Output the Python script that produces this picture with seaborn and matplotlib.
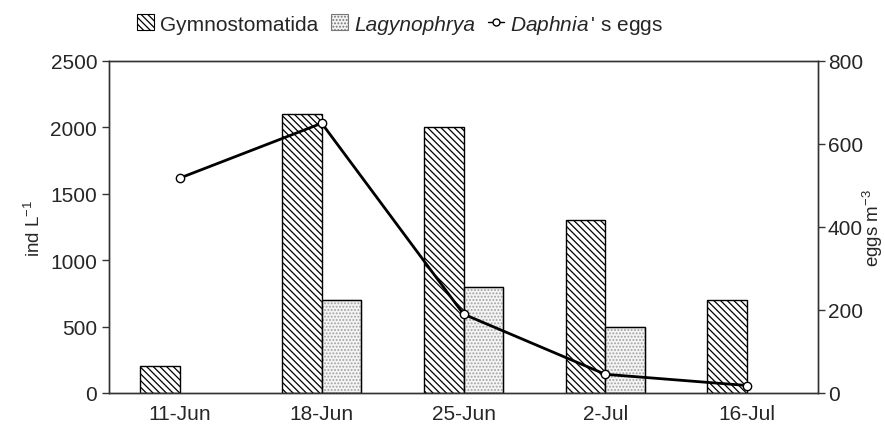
import numpy as np
import pandas as pd
import matplotlib
matplotlib.use('Agg')
import matplotlib.pyplot as plt
import matplotlib.patches as mpatches
import matplotlib.lines as mlines
import seaborn as sns

dates = ['11-Jun', '18-Jun', '25-Jun', '2-Jul', '16-Jul']
gymno = [200, 2100, 2000, 1300, 700]
lagyno = [np.nan, 700, 800, 500, np.nan]
eggs = [518, 650, 190, 45, 18]

df = pd.DataFrame({
    'date': dates * 2,
    'ind': gymno + lagyno,
    'taxon': ['Gymnostomatida'] * 5 + ['Lagynophrya'] * 5,
})

sns.set_style('white')
plt.rcParams['font.family'] = ['Liberation Sans', 'DejaVu Sans']
plt.rcParams['mathtext.fontset'] = 'custom'
plt.rcParams['mathtext.rm'] = 'Liberation Sans'
plt.rcParams['mathtext.it'] = 'Liberation Sans:italic'
plt.rcParams['hatch.linewidth'] = 0.9

FS = 15
LFS = 13.5

fig = plt.figure(figsize=(8.85, 4.35), dpi=100)
ax = fig.add_axes([0.1232, 0.0943, 0.8011, 0.7632])

sns.barplot(data=df, x='date', y='ind', hue='taxon', order=dates,
            hue_order=['Gymnostomatida', 'Lagynophrya'], width=0.56,
            palette=['white', '#f0f0f0'], edgecolor='black', linewidth=1,
            errorbar=None, legend=False, ax=ax)

ngym = len(dates)
for i, p in enumerate(ax.patches):
    if i < ngym:
        p.set_hatch('\\\\\\\\\\')
        p.set_facecolor('white')
    else:
        p.set_hatch('.....')
        p.set_facecolor('#f4f4f4')
        p.set_edgecolor('#a0a0a0')
        # dark outline on top of the grey stipple
        ax.add_patch(mpatches.Rectangle(p.get_xy(), p.get_width(), p.get_height(),
                                        fill=False, edgecolor='black', lw=1, zorder=p.get_zorder() + 0.1))

ax.set_xlim(-0.5, 4.5)
ax.set_ylim(0, 2500)
ax.set_yticks([0, 500, 1000, 1500, 2000, 2500])
ax.set_xlabel('')
ax.set_ylabel('ind L$^{-1}$', fontsize=LFS)
ax.yaxis.set_label_coords(-0.092, 0.5)
ax.set_xticks(np.arange(0.5, 4.5, 1), minor=True)
ax.tick_params(axis='x', which='major', length=0, labelsize=FS, pad=8)
ax.tick_params(axis='x', which='minor', length=6, direction='out', width=1, color='#333333')
ax.tick_params(axis='y', length=5, direction='out', width=1, labelsize=FS, left=True, color='#333333')
for s in ax.spines.values():
    s.set_color('#333333')
    s.set_linewidth(1)

ax2 = ax.twinx()
sns.lineplot(x=np.arange(len(dates)), y=eggs, ax=ax2, color='black', lw=2,
             marker='o', markersize=6, markerfacecolor='white',
             markeredgecolor='black', markeredgewidth=1)
ax2.set_ylim(0, 800)
ax2.set_yticks([0, 200, 400, 600, 800])
ax2.set_ylabel('eggs m$^{-3}$', fontsize=LFS)
ax2.yaxis.set_label_coords(1.061, 0.5)
ax2.tick_params(axis='y', length=5, direction='out', width=1, labelsize=FS, right=True,
                color='#333333', pad=2)
for s in ax2.spines.values():
    s.set_color('#333333')
    s.set_linewidth(1)

h1 = mpatches.Patch(facecolor='white', edgecolor='black', hatch='\\\\\\\\\\', lw=0.8)
h2 = mpatches.Patch(facecolor='#f2f2f2', edgecolor='#777777', hatch='.....', lw=0.8)
h3 = mlines.Line2D([], [], color='black', lw=1, marker='o', markersize=5,
                   markerfacecolor='white', markeredgecolor='black')
leg = fig.legend([h1, h2, h3], ['Gymnostomatida', 'Lagynophrya', "$\\it{Daphnia}\\,$' s eggs"],
                 loc='upper left', bbox_to_anchor=(0.14, 1.0), ncol=3, frameon=False,
                 fontsize=FS, handlelength=0.8, handleheight=0.8, handletextpad=0.3,
                 columnspacing=0.6, borderaxespad=0.25)
leg.get_texts()[1].set_style('italic')

fig.savefig('out.png', dpi=100)
